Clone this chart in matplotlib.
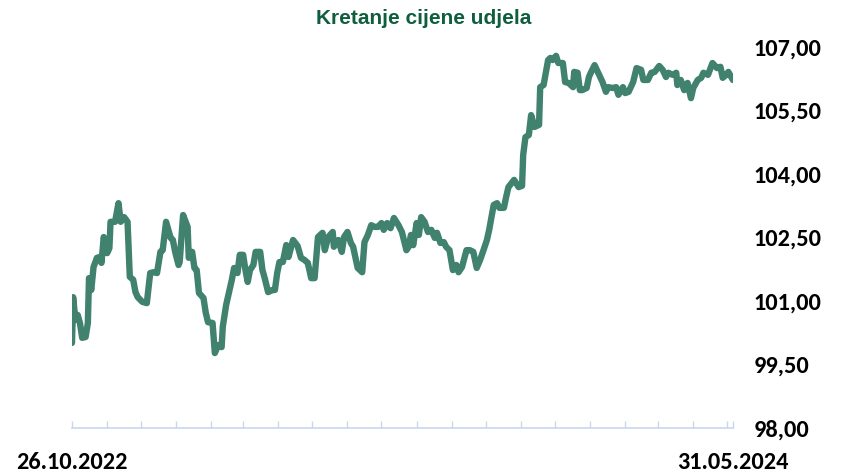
import numpy as np
import matplotlib
matplotlib.use("Agg")
import matplotlib.pyplot as plt
import matplotlib.dates as mdates
from matplotlib import font_manager

start = np.datetime64('2022-10-26')
end = np.datetime64('2024-05-31')

# days after start date
days = [0, 1, 3, 5, 7, 9, 12, 14, 15, 17, 19, 22, 25, 26, 28, 31, 33, 34, 38, 41,
        43, 46, 49, 51, 54, 56, 58, 62, 66, 69, 72, 75, 78, 80, 83, 87, 89, 91, 94, 95,
        98, 102, 103, 106, 108, 110, 112, 116, 118, 120, 124, 126, 129, 132, 133, 136, 139, 141, 143, 146,
        148, 151, 153, 155, 157, 160, 162, 166, 168, 170, 173, 177, 179, 181, 183, 186, 189, 191, 195, 199,
        202, 205, 208, 211, 214, 217, 221, 223, 226, 230, 231, 235, 238, 240, 243, 246, 248, 252, 256, 258,
        261, 264, 267, 270, 273, 275, 278, 281, 284, 288, 291, 295, 297, 299, 301, 304, 306, 308, 311, 314,
        317, 320, 322, 325, 328, 330, 333, 336, 339, 341, 344, 348, 351, 354, 357, 360, 363, 366, 368, 372,
        375, 377, 381, 383, 385, 390, 394, 397, 398, 400, 403, 405, 408, 412, 413, 416, 420, 422, 424, 427,
        429, 433, 435, 438, 442, 443, 446, 448, 450, 454, 456, 458, 461, 465, 468, 471, 473, 477, 480, 482,
        486, 488, 491, 495, 498, 502, 504, 508, 511, 514, 518, 521, 524, 526, 530, 533, 534, 537, 540, 543,
        546, 548, 552, 555, 557, 561, 565, 569, 572, 574, 577, 579, 583]

price = [100.01, 101.09, 100.55, 100.67, 100.48, 100.13, 100.15, 100.48, 101.54, 101.26,
         101.80, 102.02, 102.04, 101.90, 102.51, 102.13, 102.25, 102.87, 102.87, 103.31,
         102.87, 102.98, 102.87, 101.57, 101.50, 101.21, 101.09, 100.98, 100.95, 101.66,
         101.68, 101.66, 102.16, 102.20, 102.87, 102.49, 102.44, 102.16, 101.85, 101.92,
         103.03, 102.75, 102.02, 102.16, 101.78, 101.73, 101.19, 101.07, 100.72, 100.50,
         100.48, 99.77, 99.96, 99.91, 100.39, 100.91, 101.26, 101.50, 101.78, 101.66,
         102.09, 102.09, 101.73, 101.45, 101.73, 101.85, 102.16, 102.16, 101.73, 101.54,
         101.21, 101.26, 101.26, 101.66, 101.92, 101.92, 102.32, 102.04, 102.44, 102.30,
         102.02, 101.97, 101.90, 101.54, 101.54, 102.51, 102.61, 102.20, 102.51, 102.63,
         102.28, 102.44, 102.16, 102.51, 102.63, 102.37, 102.28, 101.78, 101.68, 102.39,
         102.56, 102.79, 102.75, 102.75, 102.84, 102.68, 102.84, 102.72, 102.96, 102.79,
         102.63, 102.20, 102.28, 102.56, 102.32, 102.84, 102.56, 102.98, 102.87, 102.63,
         102.68, 102.49, 102.61, 102.37, 102.39, 102.28, 102.20, 101.73, 101.85, 101.68,
         101.80, 102.20, 102.20, 102.16, 101.78, 101.97, 102.20, 102.44, 102.68, 103.27,
         103.31, 103.20, 103.20, 103.46, 103.69, 103.86, 103.69, 103.72, 104.45, 104.87,
         104.92, 105.39, 105.11, 105.16, 106.05, 106.10, 106.69, 106.74, 106.69, 106.79,
         106.62, 106.62, 106.17, 106.15, 106.05, 106.41, 106.39, 105.98, 105.98, 106.03,
         106.29, 106.41, 106.57, 106.34, 106.17, 105.94, 106.05, 106.03, 106.05, 105.87,
         106.05, 105.91, 105.94, 106.17, 106.50, 106.46, 106.22, 106.22, 106.39, 106.41,
         106.55, 106.46, 106.29, 106.39, 106.34, 106.39, 106.10, 106.22, 105.98, 106.15,
         105.79, 106.03, 106.22, 106.27, 106.39, 106.34, 106.62, 106.50, 106.53, 106.27,
         106.34, 106.41, 106.22]

ylim = (98.0, 107.0)
yticks = [98.0, 99.5, 101.0, 102.5, 104.0, 105.5, 107.0]
title = "Kretanje cijene udjela"

names = {f.name for f in font_manager.fontManager.ttflist}
label_font = "Carlito" if "Carlito" in names else "Liberation Sans"

dates = start + np.array(days).astype('timedelta64[D]')

fig = plt.figure(figsize=(8.43, 4.74), dpi=100)
ax = fig.add_axes([0.0854, 0.097, 0.784, 0.804])
ax.plot(dates.astype('datetime64[D]').astype(object), price, color='#41826f', lw=4.6,
        solid_joinstyle='round', solid_capstyle='round')

ax.set_ylim(*ylim)
ax.set_xlim(start.astype(object), end.astype(object))
ax.yaxis.tick_right()
ax.set_yticks(yticks)
ax.set_yticklabels([f"{v:.2f}".replace('.', ',') for v in yticks],
                   fontsize=17.5, fontweight='bold', family=label_font)
ax.tick_params(axis='y', length=0, pad=15)

ax.set_xticks([start.astype(object), end.astype(object)])
ax.set_xticklabels(['26.10.2022', '31.05.2024'], fontsize=17.5, fontweight='bold', family=label_font)
ax.xaxis.set_minor_locator(mdates.MonthLocator(bymonthday=26))
ax.tick_params(axis='x', which='both', direction='in', length=5, color='#c9d7ec', width=1, pad=17)

for s in ['top', 'left', 'right']:
    ax.spines[s].set_visible(False)
ax.spines['bottom'].set_color('#c9d7ec')
ax.spines['bottom'].set_linewidth(1.2)

fig.text(0.503, 0.962, title, ha='center', va='center', fontsize=15, fontweight='bold',
         color='#0f5e3e', family='Liberation Sans')

fig.savefig('out.png', dpi=100)
